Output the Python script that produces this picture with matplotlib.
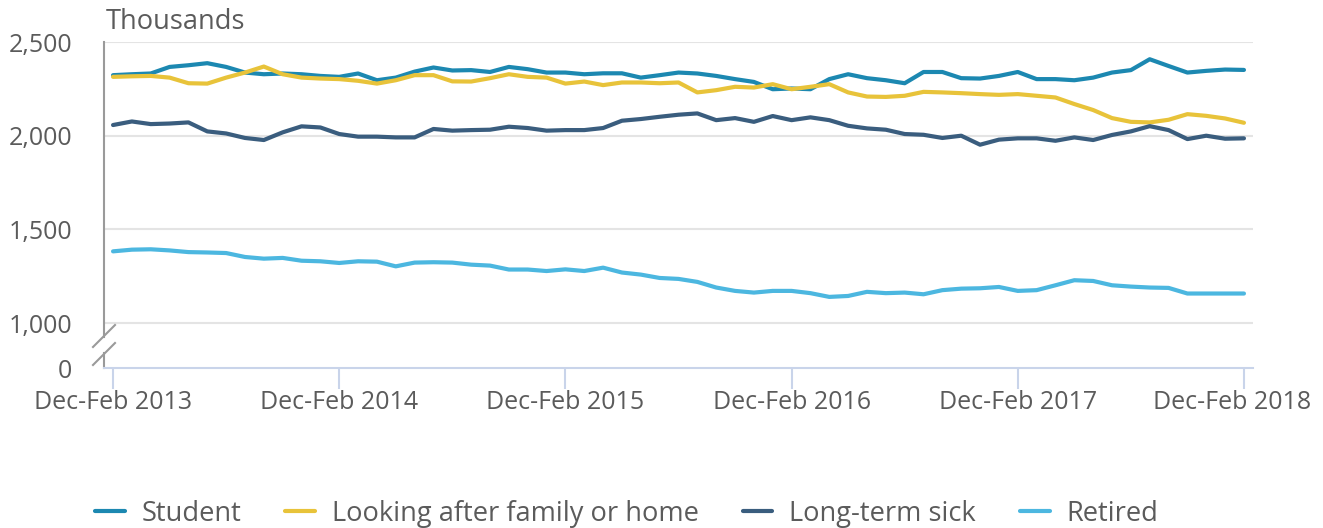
import numpy as np
import matplotlib
matplotlib.use("Agg")
import matplotlib.pyplot as plt
import matplotlib.transforms as mtransforms

plt.rcParams['font.family'] = ['Open Sans', 'DejaVu Sans']

# ---- data (thousands), rolling quarters Dec-Feb 2013 .. Dec-Feb 2018 ----
tick_labels = ["Dec-Feb 2013", "Dec-Feb 2014", "Dec-Feb 2015",
               "Dec-Feb 2016", "Dec-Feb 2017", "Dec-Feb 2018"]
series_names = ["Student", "Looking after family or home", "Long-term sick", "Retired"]

student = [2323, 2328, 2332, 2367, 2376, 2387, 2367, 2337, 2328, 2332,
           2328, 2319, 2314, 2332, 2296, 2310, 2342, 2364, 2348, 2350,
           2340, 2367, 2355, 2337, 2337, 2328, 2333, 2333, 2310, 2323,
           2337, 2332, 2319, 2302, 2287, 2248, 2252, 2248, 2302, 2328,
           2307, 2296, 2280, 2340, 2340, 2307, 2305, 2319, 2340, 2302,
           2302, 2296, 2310, 2337, 2350, 2408, 2372, 2337, 2346, 2353,
           2351]
family = [2314, 2317, 2319, 2310, 2280, 2278, 2310, 2337, 2369, 2328,
          2310, 2305, 2302, 2293, 2278, 2296, 2323, 2323, 2290, 2289,
          2307, 2328, 2314, 2310, 2278, 2289, 2270, 2284, 2284, 2280,
          2284, 2231, 2243, 2261, 2257, 2275, 2248, 2261, 2275, 2231,
          2209, 2207, 2213, 2234, 2231, 2227, 2222, 2218, 2222, 2213,
          2204, 2169, 2137, 2094, 2074, 2071, 2085, 2115, 2106, 2092,
          2069]
sick = [2057, 2076, 2062, 2065, 2071, 2023, 2012, 1988, 1977, 2018,
        2050, 2044, 2009, 1995, 1995, 1991, 1991, 2036, 2027, 2030,
        2032, 2048, 2041, 2027, 2030, 2030, 2041, 2080, 2089, 2101,
        2112, 2119, 2083, 2094, 2074, 2105, 2083, 2098, 2083, 2053,
        2039, 2032, 2009, 2005, 1988, 2000, 1952, 1979, 1986, 1986,
        1973, 1991, 1977, 2004, 2023, 2051, 2030, 1982, 2000, 1984,
        1986]
retired = [1383, 1392, 1394, 1388, 1379, 1377, 1374, 1353, 1344, 1348,
           1333, 1330, 1321, 1330, 1328, 1303, 1323, 1325, 1323, 1312,
           1307, 1286, 1286, 1278, 1287, 1278, 1296, 1270, 1259, 1241,
           1236, 1220, 1190, 1172, 1163, 1172, 1172, 1160, 1140, 1145,
           1167, 1160, 1163, 1154, 1176, 1184, 1186, 1193, 1172, 1176,
           1202, 1229, 1225, 1202, 1195, 1190, 1188, 1158, 1158, 1158,
           1158]
ytick_values = [0, 1000, 1500, 2000, 2500]

# ---- styling ----
colors = ["#1c88b1", "#e8c33a", "#3a5d7e", "#4cb7e0"]
text_color = "#5b5b5b"
grid_color = "#e4e4e4"
axis_color = "#c9d4ea"
spine_color = "#9a9a9a"
FS = 18
FS_BIG = 19.6

fig = plt.figure(figsize=(13.23, 5.28), dpi=100)
ax = fig.add_axes([104/1323, 1-368/528, (1253-104)/1323, (368-42)/528])

x = np.arange(len(student))
# broken axis: zero is drawn a short distance below 1,000
zero_pos = 1000 - 45 * 500 / 94.0
for vals, c, name in zip([student, family, sick, retired], colors, series_names):
    ax.plot(x, vals, color=c, lw=3.0, label=name, solid_capstyle='round',
            solid_joinstyle='round', zorder=3)

ax.set_xlim(-0.48, 60.48)
ax.set_ylim(zero_pos, 2500)

ypos = [zero_pos if v == 0 else v for v in ytick_values]
ax.set_yticks(ypos)
ax.set_yticklabels([f"{v:,}" for v in ytick_values])
for v in ytick_values:
    if v >= 1000:
        ax.axhline(v, color=grid_color, lw=1.5, zorder=1)

ax.set_xticks(x[::12])
ax.set_xticklabels(tick_labels)

for s in ["top", "right", "left"]:
    ax.spines[s].set_visible(False)
ax.spines["bottom"].set_color(axis_color)
ax.spines["bottom"].set_linewidth(1.5)

ax.tick_params(axis='x', length=15, width=1.5, color=axis_color,
               labelsize=FS, labelcolor=text_color, pad=1)
ax.tick_params(axis='y', length=0, labelsize=FS, labelcolor=text_color, pad=23)

# shift last x label slightly left like the reference
lbls = ax.get_xticklabels()
lbls[-1].set_transform(lbls[-1].get_transform() +
                       mtransforms.ScaledTranslation(-12/100, 0, fig.dpi_scale_trans))

# left spine with break marks
axw = 1253 - 104
axh = 368 - 42
def axy(p):
    return (368 - p) / axh
def axx(p):
    return (p - 104) / axw
kw = dict(transform=ax.transAxes, clip_on=False, color=spine_color, lw=1.5)
ax.plot([0, 0], [1, axy(337)], **kw)
ax.plot([0, 0], [axy(353), 0], **kw)
ax.plot([axx(93), axx(115)], [axy(347), axy(325)], **kw)
ax.plot([axx(93), axx(115)], [axy(365), axy(343)], **kw)

fig.text(106/1323, 1-22/528, "Thousands", fontsize=FS_BIG, color=text_color,
         ha='left', va='center')

leg = fig.legend(loc='center left', bbox_to_anchor=(95/1323, 1-514/528),
                 ncol=4, frameon=False, fontsize=FS_BIG, handlelength=1.1,
                 handletextpad=0.62, columnspacing=1.6, borderaxespad=0,
                 borderpad=0)
for t in leg.get_texts():
    t.set_color(text_color)
for h in leg.get_lines():
    h.set_linewidth(3.0)

fig.savefig("out.png", dpi=100)
